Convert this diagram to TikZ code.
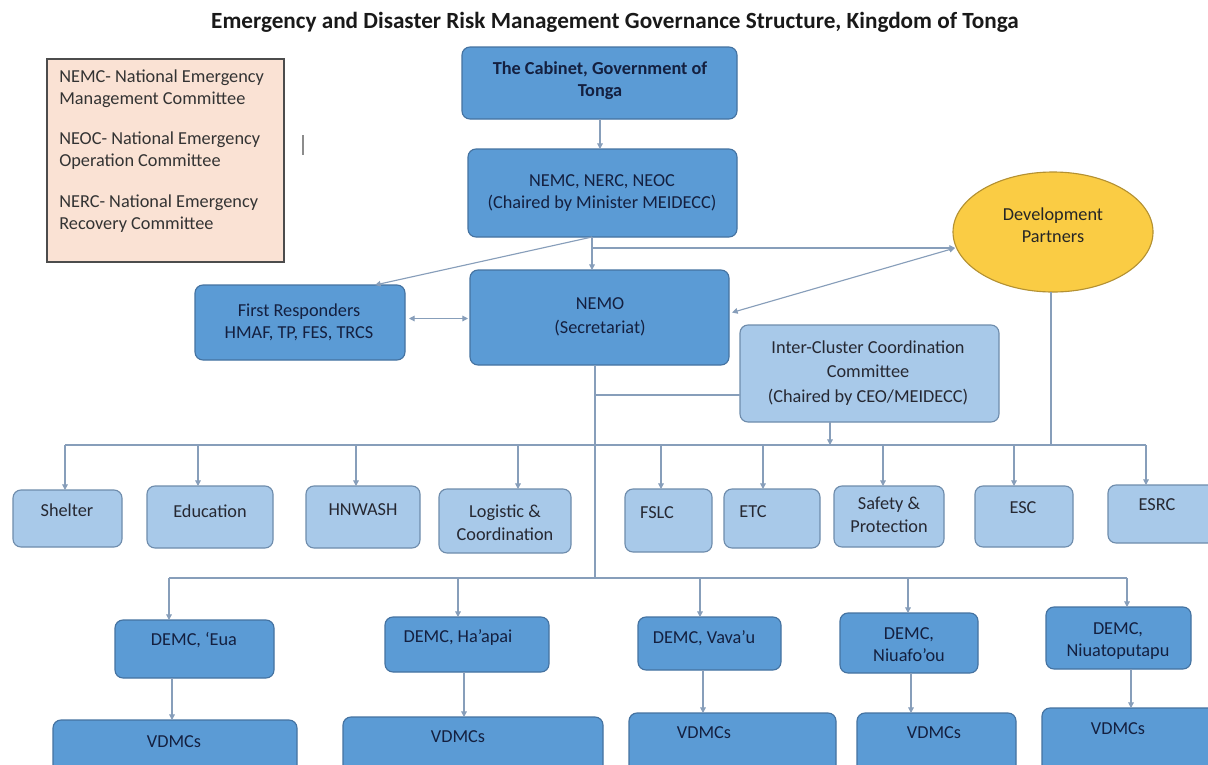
\documentclass[tikz,border=0pt]{standalone}
\usepackage{fontspec}
\setmainfont{Carlito}
\usetikzlibrary{arrows.meta,calc,shapes.geometric}

\definecolor{darkfill}{RGB}{91,155,213}
\definecolor{darkline}{RGB}{68,114,160}
\definecolor{lightfill}{RGB}{168,201,233}
\definecolor{lightline}{RGB}{110,140,172}
\definecolor{peach}{RGB}{250,226,212}
\definecolor{gold}{RGB}{250,204,68}
\definecolor{goldline}{RGB}{180,145,50}
\definecolor{wire}{RGB}{135,158,186}
\definecolor{navytext}{RGB}{20,32,64}
\definecolor{graytext}{RGB}{38,40,50}

% box from corner (x1,y1) to corner (x2,y2), in pixel units
\newcommand\bx[7]{%
  \node[#2, minimum width={(#5-#3)*0.025cm}, minimum height={(#6-#4)*0.025cm}]
    (#1) at ({(#3+#5)/2},{(#4+#6)/2}) {#7};}

\tikzset{
  base/.style={inner sep=0pt, outer sep=0pt, rounded corners=0.2cm, line width=0.8pt},
  darkbox/.style={base, fill=darkfill, draw=darkline},
  lightbox/.style={base, fill=lightfill, draw=lightline},
  legendbox/.style={inner sep=0pt, outer sep=0pt, fill=peach, draw=black!70, line width=0.9pt},
  dtxt/.style={inner sep=0pt, align=center, text=navytext, font=\fontsize{13}{15.5}\selectfont},
  ltxt/.style={inner sep=0pt, align=center, text=graytext, font=\fontsize{13}{16.5}\selectfont},
  legtxt/.style={inner sep=0pt, align=left, anchor=west, text=black!80, font=\fontsize{13}{15.6}\selectfont},
  conn/.style={draw=wire, line width=0.8pt},
  arr/.style={conn, -{Triangle[length=4pt,width=4pt]}},
  arrtwo/.style={conn, {Triangle[length=4pt,width=4pt]}-{Triangle[length=4pt,width=4pt]}},
}

\begin{document}
\begin{tikzpicture}[x=0.025cm, y=-0.025cm]
\useasboundingbox (0,0) rectangle (1208,764);
\clip (0,0) rectangle (1208,764);
\fill[white] (0,0) rectangle (1208,764);

% title
\node[inner sep=0pt, font=\bfseries\fontsize{16.5}{19}\selectfont, text=black!90] (title) at (615,22)
  {Emergency and Disaster Risk Management Governance Structure, Kingdom of Tonga};

% legend
\bx{legend}{legendbox}{47}{59}{284}{262}{}
\node[legtxt] (lg1) at (59,89) {NEMC- National Emergency\\Management Committee};
\node[legtxt] (lg2) at (59,151) {NEOC- National Emergency\\Operation Committee};
\node[legtxt] (lg3) at (59,214) {NERC- National Emergency\\Recovery Committee};
\draw[draw=black!45, line width=1.1pt] (303,135) -- (303,155);

% national level
\bx{cab}{darkbox}{462}{47}{737}{119}{}
\node[dtxt, font=\bfseries\fontsize{13}{15.5}\selectfont] (cab-t) at (600,81) {The Cabinet, Government of\\Tonga};
\bx{nemc}{darkbox}{468}{149}{737}{237}{}
\node[dtxt] (nemc-t) at (602,193) {NEMC, NERC, NEOC\\(Chaired by Minister MEIDECC)};
\bx{fr}{darkbox}{195}{285}{405}{360}{}
\node[dtxt] (fr-t) at (299,322) {First Responders\\HMAF, TP, FES, TRCS};
\bx{nemo}{darkbox}{470}{270}{729}{365}{}
\node[dtxt, font=\fontsize{13}{17}\selectfont] (nemo-t) at (600,317) {NEMO\\(Secretariat)};
\node[ellipse, inner sep=0pt, outer sep=0pt, fill=gold, draw=goldline, line width=0.8pt,
      minimum width=200*0.025cm, minimum height=120*0.025cm] (dp) at (1053,232) {};
\node[inner sep=0pt, align=center, text=black!85, font=\fontsize{13}{16}\selectfont] (dp-t) at (1053,225) {Development\\Partners};
\bx{icc}{lightbox}{740}{325}{999}{422}{}
\node[ltxt, font=\fontsize{13}{17.5}\selectfont] (icc-t) at (868,373) {Inter-Cluster Coordination\\Committee\\(Chaired by CEO/MEIDECC)};

% clusters
\bx{shelter}{lightbox}{13}{490}{122}{547}{}
\node[ltxt] (shelter-t) at (67,510) {Shelter};
\bx{edu}{lightbox}{147}{486}{273}{548}{}
\node[ltxt] (edu-t) at (210,511) {Education};
\bx{hnw}{lightbox}{306}{486}{420}{548}{}
\node[ltxt] (hnw-t) at (363,510) {HNWASH};
\bx{log}{lightbox}{439}{489}{571}{553}{}
\node[ltxt] (log-t) at (505,523) {Logistic \&\\Coordination};
\bx{fslc}{lightbox}{625}{489}{712}{552}{}
\node[ltxt] (fslc-t) at (657,513) {FSLC};
\bx{etc}{lightbox}{724}{489}{820}{548}{}
\node[ltxt] (etc-t) at (753,512) {ETC};
\bx{safe}{lightbox}{834}{486}{944}{547}{}
\node[ltxt] (safe-t) at (889,515) {Safety \&\\Protection};
\bx{esc}{lightbox}{975}{486}{1073}{547}{}
\node[ltxt] (esc-t) at (1023,508) {ESC};
\bx{esrc}{lightbox}{1108}{485}{1216}{543}{}
\node[ltxt] (esrc-t) at (1157,505) {ESRC};

% district committees
\bx{eua}{darkbox}{115}{620}{274}{678}{}
\node[dtxt] (eua-t) at (194,640) {DEMC, ‘Eua};
\bx{hap}{darkbox}{385}{617}{549}{672}{}
\node[dtxt] (hap-t) at (458,638) {DEMC, Ha’apai};
\bx{vav}{darkbox}{638}{617}{781}{670}{}
\node[dtxt] (vav-t) at (704,638) {DEMC, Vava’u};
\bx{nfo}{darkbox}{840}{613}{978}{673}{}
\node[dtxt] (nfo-t) at (909,645) {DEMC,\\Niuafo’ou};
\bx{ntp}{darkbox}{1046}{607}{1191}{669}{}
\node[dtxt] (ntp-t) at (1118,641) {DEMC,\\Niuatoputapu};

% village committees
\bx{v1}{darkbox}{53}{720}{297}{800}{}
\node[dtxt] (v1-t) at (174,742) {VDMCs};
\bx{v2}{darkbox}{343}{717}{603}{800}{}
\node[dtxt] (v2-t) at (458,737) {VDMCs};
\bx{v3}{darkbox}{629}{713}{836}{800}{}
\node[dtxt] (v3-t) at (704,733) {VDMCs};
\bx{v4}{darkbox}{857}{713}{1016}{800}{}
\node[dtxt] (v4-t) at (934,733) {VDMCs};
\bx{v5}{darkbox}{1042}{708}{1216}{800}{}
\node[dtxt] (v5-t) at (1118,729) {VDMCs};

% junctions and buses
\coordinate (j1) at (592,237);
\coordinate (j2) at (592,248);
\coordinate (t1) at (595,395);
\coordinate (cb) at (0,445);
\coordinate (db) at (0,578);

% connectors at national level
\draw[arr] (cab.south -| 600,0) -- (nemc.north -| 600,0);
\draw[arr] (j1) -- ($(fr.north)+(75,0)$);
\draw[arr] (j1) -- (j1 |- nemo.north);
\draw[arr] (j2) -- ($(j2 -| dp.west)+(2,0)$);
\draw[arrtwo] ($(nemo.east)+(3,-5)$) -- ($(j2 -| dp.west)+(2,0)$);
\draw[arrtwo] ($(fr.east)+(4,-4)$) -- ($(fr.east -| nemo.west)+(-2,-4)$);

% trunk from NEMO
\draw[conn] (nemo.south -| t1) -- (t1 |- db);
\draw[conn] (t1) -- (t1 -| icc.west);

% cluster bus
\draw[arr] (icc.south -| 830,0) -- (cb -| 830,0);
\draw[conn] (dp.south -| 1051,0) -- (cb -| 1051,0);
\draw[conn] (cb -| 65,0) -- (cb -| 1146,0);
\draw[arr] (cb -| 65,0) -- (shelter.north -| 65,0);
\draw[arr] (cb -| 198,0) -- (edu.north -| 198,0);
\draw[arr] (cb -| 356,0) -- (hnw.north -| 356,0);
\draw[arr] (cb -| 518,0) -- (log.north -| 518,0);
\draw[arr] (cb -| 661,0) -- (fslc.north -| 661,0);
\draw[arr] (cb -| 763,0) -- (etc.north -| 763,0);
\draw[arr] (cb -| 883,0) -- (safe.north -| 883,0);
\draw[arr] (cb -| 1014,0) -- (esc.north -| 1014,0);
\draw[arr] (cb -| 1146,0) -- (esrc.north -| 1146,0);

% district bus
\draw[conn] (db -| 169,0) -- (db -| 1127,0);
\draw[arr] (db -| 169,0) -- (eua.north -| 169,0);
\draw[arr] (db -| 458,0) -- (hap.north -| 458,0);
\draw[arr] (db -| 700,0) -- (vav.north -| 700,0);
\draw[arr] (db -| 908,0) -- (nfo.north -| 908,0);
\draw[arr] (db -| 1127,0) -- (ntp.north -| 1127,0);

% district to village
\draw[arr] (eua.south -| 172,0) -- (v1.north -| 172,0);
\draw[arr] (hap.south -| 464,0) -- (v2.north -| 464,0);
\draw[arr] (vav.south -| 703,0) -- (v3.north -| 703,0);
\draw[arr] (nfo.south -| 911,0) -- (v4.north -| 911,0);
\draw[arr] (ntp.south -| 1131,0) -- (v5.north -| 1131,0);
\end{tikzpicture}
\end{document}
